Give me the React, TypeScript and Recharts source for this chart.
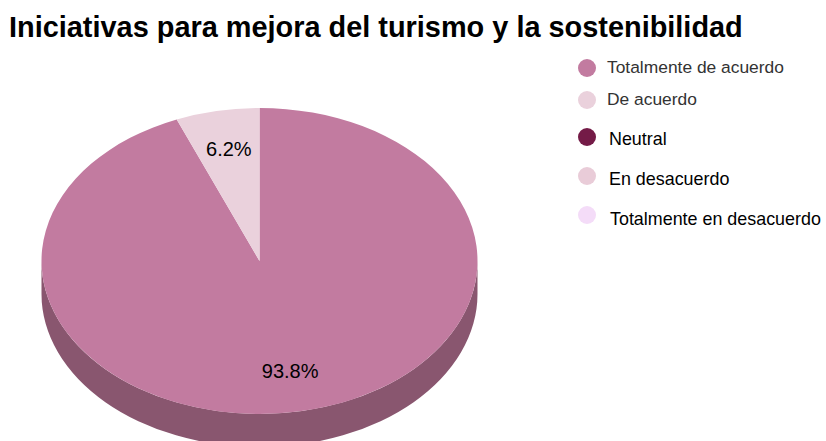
import React from "react";
import { PieChart, Pie, Legend } from "recharts";

const TITLE = "Iniciativas para mejora del turismo y la sostenibilidad";
const CATEGORIES = [
  "Totalmente de acuerdo",
  "De acuerdo",
  "Neutral",
  "En desacuerdo",
  "Totalmente en desacuerdo",
];
const VALUES = [93.8, 6.2, 0, 0, 0];
const COLORS = ["#c27ba0", "#ead1dc", "#741b47", "#e9ccd8", "#f4dcf8"];
const TEXT_COLORS = ["#333333", "#333333", "#000000", "#000000", "#000000"];

// the legend rows are not evenly spaced in the original
const LEGEND_MARKER_Y = [68, 100, 137, 176, 215];
const LEGEND_TEXT_X = [607, 607, 609, 609, 610];
const LEGEND_TEXT_Y = [67, 99, 139, 179, 219];
const LEGEND_FONT_SIZE = [17.4, 17.4, 17.9, 17.9, 17.9];

const chartData = CATEGORIES.map((name, i) => ({
  name,
  value: VALUES[i],
  fill: COLORS[i],
}));

const FONT = "'Liberation Sans', Arial, sans-serif";
const TILT = 153 / 218;
const DEPTH = 33;
const WALL_COLOR = "#89566f";

const RAD = Math.PI / 180;

const EllipseSlice = (props: any) => {
  const { cx, cy, outerRadius, startAngle, endAngle, fill } = props;
  if (startAngle === endAngle) return null;
  const rx = outerRadius;
  const ry = outerRadius * TILT;
  const px = (a: number) => cx + rx * Math.cos(a * RAD);
  const py = (a: number) => cy - ry * Math.sin(a * RAD);
  const large = Math.abs(startAngle - endAngle) > 180 ? 1 : 0;
  const top = `M${cx},${cy}L${px(startAngle)},${py(startAngle)}A${rx},${ry} 0 ${large} 1 ${px(endAngle)},${py(endAngle)}Z`;

  // side wall only where the slice crosses the front half of the ellipse
  const hi = Math.min(startAngle, 0);
  const lo = Math.max(endAngle, -180);
  const wall =
    hi > lo
      ? `M${px(hi)},${py(hi)}A${rx},${ry} 0 0 1 ${px(lo)},${py(lo)}L${px(lo)},${py(lo) + DEPTH}A${rx},${ry} 0 0 0 ${px(hi)},${py(hi) + DEPTH}Z`
      : null;

  return (
    <g>
      {wall && <path d={wall} fill={WALL_COLOR} />}
      <path d={top} fill={fill} />
    </g>
  );
};

const renderLabel = (props: any) => {
  const { cx, cy, midAngle, outerRadius, percent } = props;
  if (!percent) return null;
  const r = outerRadius * 0.727;
  const x = cx + r * Math.cos(midAngle * RAD);
  // labels sit a little high on the back half of the pie
  const y = cy - r * TILT * Math.sin(midAngle * RAD) + (Math.sin(midAngle * RAD) > 0 ? -3 : 1);
  return (
    <text
      x={x}
      y={y}
      fill="#000"
      textAnchor="middle"
      dominantBaseline="central"
      fontFamily={FONT}
      fontSize={20}
    >
      {(percent * 100).toFixed(1)}%
    </text>
  );
};

const renderLegend = (props: any) => {
  const items = props.payload || [];
  return (
    <svg width={826} height={441} style={{ display: "block" }}>
      {items.map((item: any, i: number) => (
        <g key={item.value}>
          <circle cx={587} cy={LEGEND_MARKER_Y[i]} r={9} fill={item.color} />
          <text
            x={LEGEND_TEXT_X[i]}
            y={LEGEND_TEXT_Y[i]}
            dominantBaseline="central"
            fill={TEXT_COLORS[i]}
            fontFamily={FONT}
            fontSize={LEGEND_FONT_SIZE[i]}
          >
            {item.value}
          </text>
        </g>
      ))}
    </svg>
  );
};

export default function App() {
  return (
    <div style={{ position: "absolute", left: 0, top: 0, width: 826, height: 441, background: "#fff", overflow: "hidden" }}>
      <PieChart width={826} height={441} margin={{ top: 0, right: 0, bottom: 0, left: 0 }}>
        <Pie
          data={chartData}
          dataKey="value"
          nameKey="name"
          cx={259.5}
          cy={261}
          outerRadius={218}
          startAngle={90}
          endAngle={-270}
          paddingAngle={0}
          shape={EllipseSlice}
          label={renderLabel}
          labelLine={false}
          isAnimationActive={false}
        />
        <Legend
          content={renderLegend}
          itemSorter={null}
          layout="vertical"
          align="right"
          verticalAlign="top"
          wrapperStyle={{ position: "absolute", left: 0, top: 0, width: 826, height: 441, pointerEvents: "none" }}
        />
      </PieChart>
      <div
        style={{
          position: "absolute",
          left: 9,
          top: 11,
          fontFamily: FONT,
          fontWeight: 700,
          fontSize: 28.9,
          lineHeight: "32px",
          color: "#000",
          whiteSpace: "nowrap",
        }}
      >
        {TITLE}
      </div>
    </div>
  );
}
